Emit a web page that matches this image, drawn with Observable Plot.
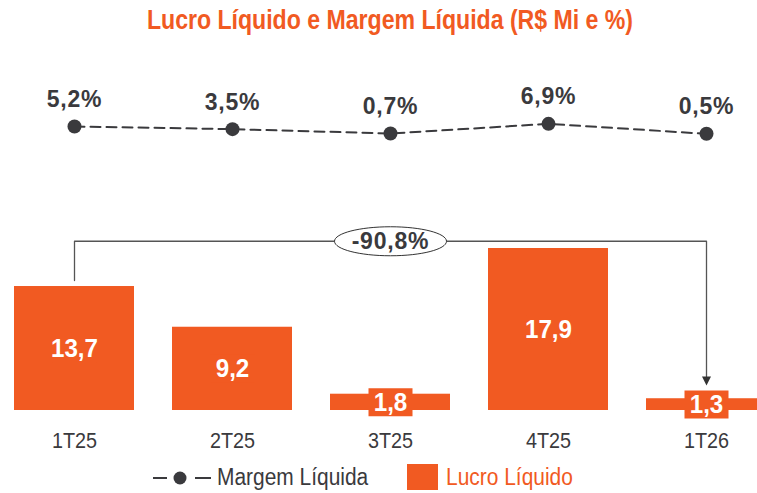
<!DOCTYPE html>
<html><head><meta charset="utf-8">
<script src="https://cdn.jsdelivr.net/npm/d3@7"></script>
<script src="https://cdn.jsdelivr.net/npm/@observablehq/plot@0.6"></script>
<style>
body{margin:0;background:#fff;}
#wrap{position:relative;width:757px;height:493px;overflow:hidden;font-family:"Liberation Sans",Arial,sans-serif;color:#3a3a3d;}
#title{position:absolute;left:0;top:5px;width:780px;text-align:center;font-size:27px;font-weight:bold;color:#F15A22;transform:scaleX(0.855);transform-origin:390px 0;white-space:nowrap;}
#line{position:absolute;left:0;top:60px;}
#bars{position:absolute;left:0;top:170px;}
.lg{position:absolute;top:463px;height:28px;line-height:28px;font-size:23px;white-space:nowrap;transform:scaleX(0.91);transform-origin:0 0;}
svg{font-family:"Liberation Sans",Arial,sans-serif;}
</style></head>
<body>
<div id="wrap">
<div id="title">Lucro Líquido e Margem Líquida (R$ Mi e %)</div>
<div id="line"></div>
<div id="bars"></div>
<svg style="position:absolute;left:153px;top:468px" width="60" height="20"><line x1="0" y1="10" x2="14" y2="10" stroke="#3a3a3d" stroke-width="2"/><circle cx="27" cy="10" r="6.5" fill="#3a3a3d"/><line x1="42" y1="10" x2="58" y2="10" stroke="#3a3a3d" stroke-width="2"/></svg>
<span class="lg" style="left:217px">Margem Líquida</span>
<span style="position:absolute;left:407px;top:464px;width:31px;height:26px;background:#F15A22"></span>
<span class="lg" style="left:446px;color:#F15A22">Lucro Líquido</span>
</div>
<script>
const quarters = ["1T25","2T25","3T25","4T25","1T26"];
const lucro = [13.7, 9.2, 1.8, 17.9, 1.3];
const margem = [5.2, 3.5, 0.7, 6.9, 0.5];
const variacao = "-90,8%";

const ORANGE = "#F15A22";
const DARK = "#3a3a3d";
const fmt = v => v.toFixed(1).replace(".", ",");
const xScale = {type: "band", domain: quarters, range: [-6.4, 787.4], paddingInner: 0.24, paddingOuter: 0.12};

const mData = quarters.map((q, i) => ({q, v: margem[i]}));
const bData = quarters.map((q, i) => ({q, v: lucro[i]}));

// horizontally condense text elements (narrow typeface look)
function condense(svg, selector, k) {
  svg.querySelectorAll(selector).forEach(t => {
    const b = t.getBBox();
    const cx = b.x + b.width / 2;
    const tr = t.getAttribute("transform") || "";
    t.setAttribute("transform", `${tr} translate(${cx},0) scale(${k},1) translate(${-cx},0)`);
  });
}

const linePlot = Plot.plot({
  width: 757, height: 110,
  margin: 0,
  x: {...xScale, axis: null},
  y: {domain: [0, 10], range: [74.1, 58.5], axis: null},
  marks: [
    Plot.line(mData, {x: "q", y: "v", stroke: DARK, strokeWidth: 2, strokeDasharray: "10,6"}),
    Plot.dot(mData, {x: "q", y: "v", r: 7, fill: DARK}),
    Plot.text(mData, {x: "q", y: "v", text: d => fmt(d.v) + "%", dy: -27, fontSize: 23, fontWeight: "bold", fill: DARK, className: "mlabel"})
  ]
});
document.getElementById("line").appendChild(linePlot);
linePlot.querySelectorAll(".mlabel text").forEach(t => t.style.letterSpacing = "0.8px");

const labelBox = {draw(ctx) { ctx.moveTo(-22, -14); ctx.lineTo(22, -14); ctx.lineTo(22, 14); ctx.lineTo(-22, 14); ctx.closePath(); }};
const arrowHead = {draw(ctx) { ctx.moveTo(0, 0); ctx.lineTo(-4.5, -9); ctx.lineTo(4.5, -9); ctx.closePath(); }};
const ellipse = {draw(ctx) {
  const rx = 56, ry = 14.5, k = 0.5523;
  ctx.moveTo(rx, 0);
  ctx.bezierCurveTo(rx, ry * k, rx * k, ry, 0, ry);
  ctx.bezierCurveTo(-rx * k, ry, -rx, ry * k, -rx, 0);
  ctx.bezierCurveTo(-rx, -ry * k, -rx * k, -ry, 0, -ry);
  ctx.bezierCurveTo(rx * k, -ry, rx, -ry * k, rx, 0);
  ctx.closePath();
}};

const first = bData[0], last = bData[bData.length - 1];
const bk = d3.max(lucro) + 0.8;
const tip = last.v + 1.45;
const bracket = [
  {q: first.q, v: first.v + 0.66},
  {q: first.q, v: bk},
  {q: last.q, v: bk},
  {q: last.q, v: tip + 1}
];

const barPlot = Plot.plot({
  width: 757, height: 290,
  marginTop: 0, marginLeft: 0, marginRight: 0, marginBottom: 50,
  x: {...xScale, label: null},
  y: {domain: [0, 20], range: [240, 59], axis: null},
  marks: [
    Plot.barY(bData, {x: "q", y: "v", fill: ORANGE}),
    Plot.axisX({tickSize: 0, tickPadding: 22, fontSize: 22, color: DARK, label: null, className: "xaxis"}),
    Plot.dot(bData, {x: "q", y: d => d.v / 2, symbol: labelBox, fill: ORANGE, r: 5}),
    Plot.text(bData, {x: "q", y: d => d.v / 2, text: d => fmt(d.v), fill: "white", fontSize: 26, fontWeight: "bold", className: "blabel"}),
    Plot.line(bracket, {x: "q", y: "v", stroke: "#555", strokeWidth: 1.3, curve: "linear"}),
    Plot.dot([{q: last.q, v: tip}], {x: "q", y: "v", symbol: arrowHead, fill: "#333", r: 5}),
    Plot.dot([{q: quarters[2], v: bk}], {x: "q", y: "v", symbol: ellipse, fill: "white", stroke: "#333", strokeWidth: 1, r: 5}),
    Plot.text([{q: quarters[2], v: bk}], {x: "q", y: "v", text: () => variacao, fill: DARK, fontSize: 23, fontWeight: "bold", className: "vlabel"})
  ]
});
document.getElementById("bars").appendChild(barPlot);
barPlot.querySelectorAll(".vlabel text").forEach(t => t.style.letterSpacing = "0.8px");
condense(barPlot, ".xaxis text", 0.9);
condense(barPlot, ".blabel text", 0.93);
</script>
</body></html>
